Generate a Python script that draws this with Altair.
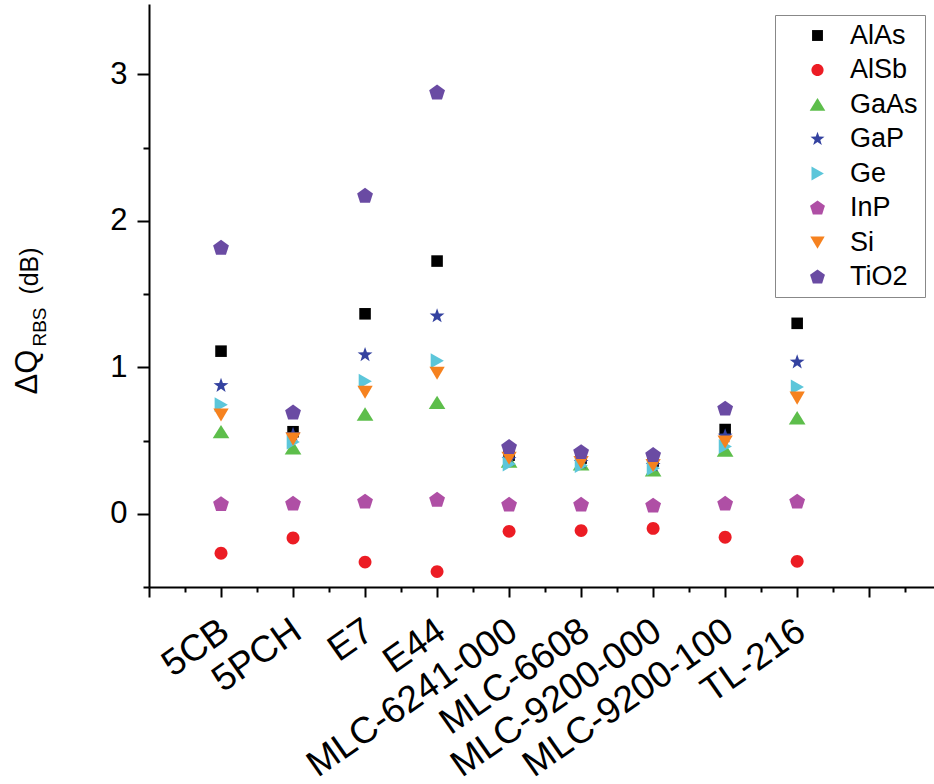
import altair as alt
import pandas as pd

categories = ["5CB", "5PCH", "E7", "E44", "MLC-6241-000", "MLC-6608",
              "MLC-9200-000", "MLC-9200-100", "TL-216"]

series_names = ["AlAs", "AlSb", "GaAs", "GaP", "Ge", "InP", "Si", "TiO2"]

AlAs = [1.11, 0.56, 1.365, 1.725, 0.40, 0.38, 0.36, 0.575, 1.30]
AlSb = [-0.27, -0.165, -0.33, -0.395, -0.12, -0.115, -0.10, -0.16, -0.325]
GaAs = [0.56, 0.45, 0.68, 0.76, 0.36, 0.34, 0.30, 0.435, 0.655]
GaP = [0.875, 0.54, 1.085, 1.35, 0.37, 0.35, 0.33, 0.53, 1.035]
Ge = [0.745, 0.49, 0.905, 1.045, 0.34, 0.33, 0.31, 0.46, 0.865]
InP = [0.065, 0.068, 0.082, 0.095, 0.061, 0.061, 0.055, 0.068, 0.082]
Si = [0.675, 0.51, 0.83, 0.96, 0.38, 0.35, 0.33, 0.49, 0.79]
TiO2 = [1.815, 0.69, 2.17, 2.875, 0.455, 0.42, 0.40, 0.717, None]

series_values = [AlAs, AlSb, GaAs, GaP, Ge, InP, Si, TiO2]

colors = ["#000000", "#EC1C24", "#5DBE4B", "#3442A0", "#5CC6DA",
          "#AF4FA5", "#F6821F", "#6A4BA3"]

# symbol outlines in the [-1, 1] box
shapes = [
    "M-0.68,-0.68H0.68V0.68H-0.68Z",
    "M0.76,0A0.76,0.76,0,1,1,-0.76,0A0.76,0.76,0,1,1,0.76,0Z",
    "M0,-0.8L0.98,0.78L-0.98,0.78Z",
    "M0,-0.92L0.216,-0.298L0.875,-0.284L0.35,0.114L0.541,0.744L0,0.368L-0.541,0.744L-0.35,0.114L-0.875,-0.284L-0.216,-0.298Z",
    "M-0.75,-0.88L0.8,0L-0.75,0.88Z",
    "M0,-0.95L0.93,-0.28L0.58,0.8L-0.58,0.8L-0.93,-0.28Z",
    "M-0.9,-0.76L0.9,-0.76L0,0.78Z",
    "M0,-0.95L0.93,-0.28L0.58,0.8L-0.58,0.8L-0.93,-0.28Z",
]

rows = []
for name, vals in zip(series_names, series_values):
    for i, v in enumerate(vals):
        if v is not None:
            rows.append({"series": name, "pos": i + 1, "value": v})
df = pd.DataFrame(rows)

FONT = "Liberation Sans"

cat_js = "[" + ",".join("'" + c + "'" for c in categories) + "]"
x_label_expr = ("datum.value >= 1 && datum.value <= 9 && datum.value % 1 === 0 ? "
                + cat_js + "[datum.value - 1] : ''")

x_axis = alt.Axis(
    values=[i * 0.5 for i in range(22)],
    tickSize={"condition": {"test": "datum.value % 1 === 0", "value": 10}, "value": 5},
    labelExpr=x_label_expr,
    labelAngle=325,
    labelAlign="right",
    labelBaseline="middle",
    labelPadding=30,
    labelOffset=4,
    labelOverlap=False,
    labelFlush=False,
    labelBound=False,
    labelLimit=600,
    labelFontSize=37,
    labelFont=FONT,
    labelColor="black",
    domainColor="black",
    domainWidth=2,
    tickColor="black",
    tickWidth=2,
    grid=False,
    title=None,
)

y_axis = alt.Axis(
    values=[-0.5 + i * 0.5 for i in range(8)],
    tickSize={"condition": {"test": "datum.value % 1 === 0", "value": 12}, "value": 6},
    labelExpr="datum.value % 1 === 0 ? format(datum.value, 'd') : ''",
    labelPadding=10,
    labelOverlap=False,
    labelFlush=False,
    labelFontSize=31,
    labelFont=FONT,
    labelColor="black",
    domainColor="black",
    domainWidth=2,
    tickColor="black",
    tickWidth=2,
    grid=False,
    title=None,
)

legend = alt.Legend(
    title=None,
    orient="none",
    legendX=626,
    legendY=11,
    padding=7,
    strokeColor="#888888",
    fillColor="white",
    labelFont=FONT,
    labelFontSize=27,
    labelColor="black",
    symbolSize=256,
    symbolStrokeWidth=0,
    symbolOffset=22,
    labelOffset=19,
    rowPadding=6.5,
)

points = alt.Chart(df).mark_point(filled=True, size=289, opacity=1, strokeWidth=0).encode(
    x=alt.X("pos:Q", scale=alt.Scale(domain=[0, 10.9], nice=False, zero=False), axis=x_axis),
    y=alt.Y("value:Q", scale=alt.Scale(domain=[-0.5, 3.48], nice=False, zero=False), axis=y_axis),
    color=alt.Color("series:N", scale=alt.Scale(domain=series_names, range=colors), legend=legend),
    shape=alt.Shape("series:N", scale=alt.Scale(domain=series_names, range=shapes), legend=legend),
)

t1 = alt.Chart(pd.DataFrame({"t": ["ΔQ"]})).mark_text(
    angle=270, font=FONT, fontSize=31, align="center", baseline="middle", color="black"
).encode(text="t:N", x=alt.value(-121), y=alt.value(368))
t2 = alt.Chart(pd.DataFrame({"t": ["RBS"]})).mark_text(
    angle=270, font=FONT, fontSize=19, align="center", baseline="middle", color="black"
).encode(text="t:N", x=alt.value(-109), y=alt.value(323))
t3 = alt.Chart(pd.DataFrame({"t": ["(dB)"]})).mark_text(
    angle=270, font=FONT, fontSize=25, align="center", baseline="middle", color="black"
).encode(text="t:N", x=alt.value(-119), y=alt.value(267))

chart = alt.layer(points, t1, t2, t3).properties(
    width=785,
    height=583,
    padding={"left": 149, "top": 4, "right": 0, "bottom": 197},
    autosize=alt.AutoSizeParams(type="none"),
    background="white",
).configure_view(stroke=None)

chart.save("out.html", embed_options={"renderer": "svg", "actions": False})
